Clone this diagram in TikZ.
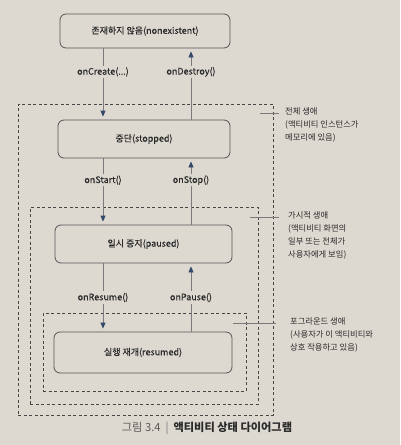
\documentclass[tikz,border=0pt]{standalone}
\usepackage{fontspec}
\setmainfont{Noto Sans CJK KR}
\newfontfamily\medfont[FakeBold=0.35]{Noto Sans CJK KR}
\usetikzlibrary{arrows.meta}
\definecolor{bg}{HTML}{DDD9D1}
\definecolor{boxline}{HTML}{555555}
\definecolor{dashline}{HTML}{454545}
\definecolor{tipblue}{HTML}{34496A}
\definecolor{linegray}{HTML}{7A7A7A}
\definecolor{txt}{HTML}{2A2A2A}
\tikzset{
  statebox/.style={draw=boxline, line width=0.8pt, rounded corners=6pt, fill=bg,
    font=\medfont\fontsize{9}{11}\selectfont, text=txt, inner sep=0pt},
  lifebox/.style={draw=dashline, line width=0.6pt, dash pattern=on 3pt off 2.5pt},
  trans/.style={draw=linegray, line width=0.8pt,
    -{Triangle[length=6pt,width=5pt,color=tipblue]}, shorten >=3pt},
  translabel/.style={fill=bg, font=\medfont\fontsize{9}{11}\selectfont, text=txt, inner sep=1.5pt},
  leader/.style={draw=linegray, line width=0.6pt},
  annot/.style={anchor=north west, align=left, font=\fontsize{8.3}{13}\selectfont, text=txt, inner sep=0pt},
}
\begin{document}
\begin{tikzpicture}[x=1pt,y=-1pt]
\useasboundingbox[fill=bg] (0,0) rectangle (400,445);

% lifetime boxes
\node[lifebox, minimum width=255pt, minimum height=311pt, inner sep=0pt] (outer) at (145.5,259.5) {};
\node[lifebox, minimum width=228pt, minimum height=197pt, inner sep=0pt] (middle) at (144,305.5) {};
\node[lifebox, minimum width=203pt, minimum height=78pt, inner sep=0pt] (inner) at (144.5,352) {};

% states
\node[statebox, minimum width=170pt, minimum height=34pt] (nonex) at (145,31) {존재하지 않음(nonexistent)};
\node[statebox, minimum width=172pt, minimum height=38pt] (stopped) at (144,139) {중단(stopped)};
\node[statebox, minimum width=177pt, minimum height=38pt] (paused) at (143.5,244) {일시 중지(paused)};
\node[statebox, minimum width=178pt, minimum height=41pt] (resumed) at (143,352.5) {실행 재개(resumed)};

% transitions
\draw[trans] (nonex.south -| 103,0) -- node[translabel, pos=0.33] {onCreate(...)} (stopped.north -| 103,0);
\draw[trans] (stopped.north -| 191,0) -- node[translabel, pos=0.67] {onDestroy()} (nonex.south -| 191,0);
\draw[trans] (stopped.south -| 103,0) -- node[translabel, pos=0.33] {onStart()} (paused.north -| 103,0);
\draw[trans] (paused.north -| 191,0) -- node[translabel, pos=0.67] {onStop()} (stopped.south -| 191,0);
\draw[trans] (paused.south -| 103,0) -- node[translabel, pos=0.5] {onResume()} (resumed.north -| 103,0);
\draw[trans] (resumed.north -| 191,0) -- node[translabel, pos=0.5] {onPause()} (paused.south -| 191,0);

% annotations
\coordinate (l1a) at (260,113); \coordinate (l1b) at (279,113);
\coordinate (l2a) at (250,217); \coordinate (l2b) at (279,217);
\coordinate (l3a) at (233,323); \coordinate (l3b) at (276,323);
\draw[leader] (l1a) -- (l1b);
\draw[leader] (l2a) -- (l2b);
\draw[leader] (l3a) -- (l3b);
\node[annot] (a1) at (285,107.5) {전체 생애\\(액티비티 인스턴스가\\메모리에 있음)};
\node[annot] (a2) at (288,211.5) {가시적 생애\\(액티비티 화면의\\일부 또는 전체가\\사용자에게 보임)};
\node[annot] (a3) at (290,317.5) {포그라운드 생애\\(사용자가 이 액티비티와\\상호 작용하고 있음)};

% caption
\node[font=\fontsize{11.2}{13}\selectfont, text=txt, inner sep=0pt] (cap) at (207,428)
  {{\color{black!65}그림 3.4}\hspace{5pt}{\color{linegray}|}\hspace{5pt}\textbf{액티비티 상태 다이어그램}};
\end{tikzpicture}
\end{document}
